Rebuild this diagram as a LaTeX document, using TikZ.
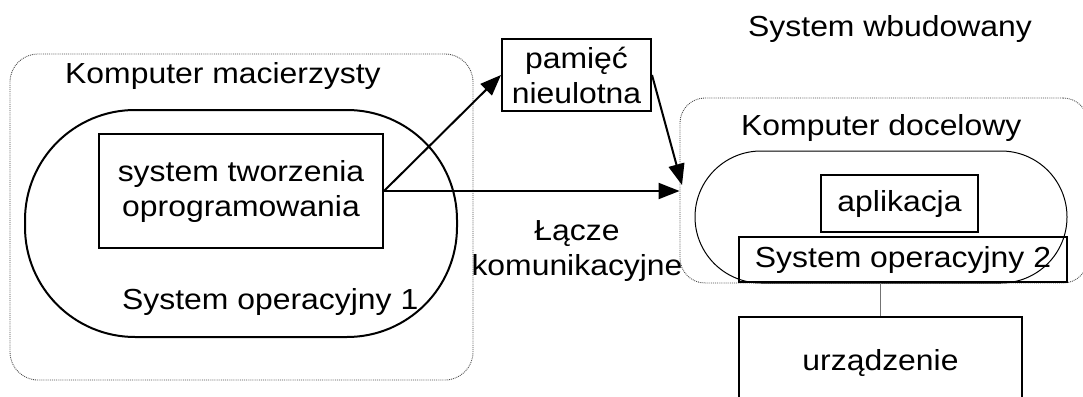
\documentclass[tikz,border=0pt]{standalone}
\usepackage{fontspec}
\setmainfont{Liberation Sans}[FakeStretch=1.1]
\usetikzlibrary{arrows.meta}
\begin{document}
\begin{tikzpicture}[x=1pt,y=-1pt,
  every node/.style={font=\fontsize{29}{35}\selectfont, inner sep=0pt},
  box/.style={draw, line width=2pt, align=center},
  dotbox/.style={draw=black!70, densely dotted, line width=0.9pt},
  lbl/.style={anchor=base west},
  conn/.style={line width=2pt, -{Triangle[length=21pt,width=16pt]}},
  link/.style={draw=black!55, line width=1.5pt}]
\useasboundingbox (0,0) rectangle (1083,396);
% containers
\node[dotbox, rounded corners=28pt, minimum width=463pt, minimum height=326pt] (km) at (241.5,217) {};
\node[dotbox, rounded corners=25pt, minimum width=408pt, minimum height=185pt] (kd) at (884,190.5) {};
\node[draw, line width=2pt, rounded corners=110pt, minimum width=432pt, minimum height=227pt] (os1) at (241,223.5) {};
\node[draw, line width=1pt, rounded corners=66pt, minimum width=372pt, minimum height=132pt] (os2) at (881,217) {};
% labels
\node[lbl] (tkm) at (65,83) {Komputer macierzysty};
\node[lbl] (tos1) at (122,309) {System operacyjny 1};
\node[lbl] (tsw) at (748,37) {System wbudowany};
\node[lbl] (tkd) at (741,135) {Komputer docelowy};
\node[align=center, anchor=base] (tlk) at (577,275) {Łącze\\komunikacyjne};
% boxes
\node[box, minimum width=284pt, minimum height=114pt] (stw) at (241,191) {system tworzenia\\oprogramowania};
\node[box, minimum width=149pt, minimum height=72pt] (pam) at (576.5,75) {pamięć\\nieulotna};
\node[box, minimum width=157pt, minimum height=57pt] (apl) at (899.5,203.5) {aplikacja};
\node[box, minimum width=328pt, minimum height=45pt] (so2) at (903,259.5) {System operacyjny 2};
\node[box, minimum width=283pt, minimum height=100pt, text depth=0pt] (urz) at (880.5,367) {};
\node[anchor=base] (turz) at (880.5,370) {urządzenie};
% connectors
\coordinate (hit) at (682,185);
\draw[conn] (stw.east) -- (pam.west);
\draw[conn] (stw.east) -- (stw.east -| kd.west);
\draw[conn] (pam.east) -- (hit);
\draw[link] (urz.north) -- (urz.north |- so2.south);
\end{tikzpicture}
\end{document}
